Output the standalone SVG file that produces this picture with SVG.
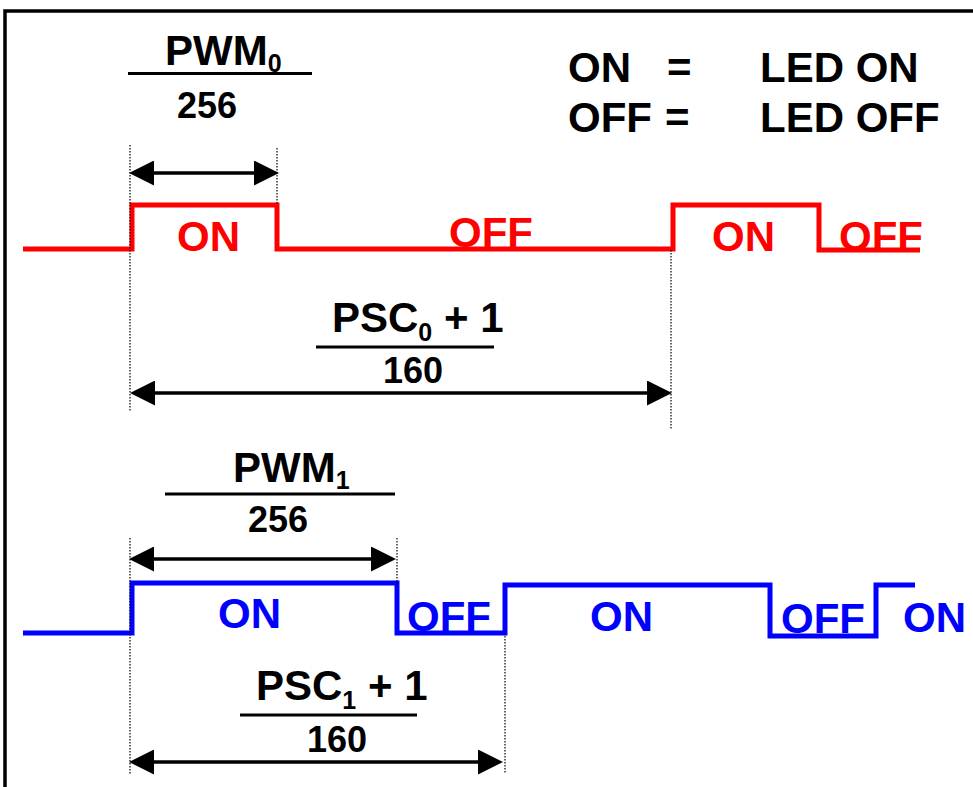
<svg xmlns="http://www.w3.org/2000/svg" width="973" height="787" viewBox="0 0 973 787">
<style>
text{font-family:"Liberation Sans",Arial,sans-serif;font-weight:bold}
.big{font-size:42px}
.num{font-size:36px}
.sub{font-size:25px}
.blk{fill:#000}
.red{fill:#FF0000}
.blu{fill:#0000FF}
.frac{stroke:#000;stroke-width:3}
.arr{stroke:#000;stroke-width:3.5;fill:none;marker-start:url(#ah);marker-end:url(#ah)}
.dot{stroke:#000;stroke-width:1.2;stroke-dasharray:1.5 1.5;fill:none}
.wave{fill:none;stroke-width:5;stroke-linejoin:miter}
</style>
<defs>
<marker id="ah" viewBox="0 0 25 25" refX="5" refY="12.5" markerWidth="25" markerHeight="25" markerUnits="userSpaceOnUse" orient="auto-start-reverse">
<path d="M0,0 L25,12.5 L0,25 z" fill="#000"/>
</marker>
</defs>
<rect x="0" y="0" width="973" height="787" fill="#fff"/>
<path d="M5,790 V11 H980" fill="none" stroke="#000" stroke-width="3.5"/>

<g id="legend">
<text class="big blk" x="568" y="82">ON</text>
<text class="big blk" x="667" y="82">=</text>
<text class="big blk" x="760" y="82">LED ON</text>
<text class="big blk" x="568" y="132">OFF</text>
<text class="big blk" x="665" y="132">=</text>
<text class="big blk" x="760" y="132">LED OFF</text>
</g>

<g id="pwm0-label">
<text class="big blk" x="165" y="65">PWM<tspan class="sub" dy="7">0</tspan></text>
<line class="frac" x1="128" y1="73.5" x2="312" y2="73.5"/>
<text class="num blk" x="177" y="118">256</text>
</g>

<g id="psc0-label">
<text class="big blk" x="332" y="332">PSC<tspan class="sub" dy="9">0</tspan><tspan dy="-9"> + 1</tspan></text>
<line class="frac" x1="316" y1="347" x2="494" y2="347"/>
<text class="num blk" x="383" y="383">160</text>
</g>

<g id="pwm1-label">
<text class="big blk" x="233" y="482">PWM<tspan class="sub" dy="7">1</tspan></text>
<line class="frac" x1="165" y1="494" x2="395" y2="494"/>
<text class="num blk" x="248" y="532">256</text>
</g>

<g id="psc1-label">
<text class="big blk" x="256" y="700">PSC<tspan class="sub" dy="9">1</tspan><tspan dy="-9"> + 1</tspan></text>
<line class="frac" x1="240" y1="715" x2="417" y2="715"/>
<text class="num blk" x="307" y="752">160</text>
</g>

<g id="red-wave">
<path class="wave" stroke="#FF0000" d="M23,249 H132 V205 H277 V249 H673 V205 H819 V250 H920"/>
<text class="big red" x="177" y="251">ON</text>
<text class="big red" x="449" y="247">OFF</text>
<text class="big red" x="712" y="251">ON</text>
<text class="big red" x="839" y="251">OFF</text>
</g>

<g id="blue-wave">
<path class="wave" stroke="#0000FF" d="M23,633 H132 V583 H397 V633 H505 V585 H770 V636 H876 V585 H915"/>
<text class="big blu" x="218" y="628">ON</text>
<text class="big blu" x="407" y="631">OFF</text>
<text class="big blu" x="590" y="631">ON</text>
<text class="big blu" x="781" y="633">OFF</text>
<text class="big blu" x="903" y="632">ON</text>
</g>

<g id="connectors">
<line class="dot" x1="130" y1="145" x2="130" y2="412"/>
<line class="dot" x1="277" y1="148" x2="277" y2="205"/>
<line class="dot" x1="671" y1="250" x2="671" y2="430"/>
<line class="dot" x1="130" y1="538" x2="130" y2="775"/>
<line class="dot" x1="397" y1="538" x2="397" y2="585"/>
<line class="dot" x1="505" y1="633" x2="505" y2="773"/>
<line class="arr" x1="149" y1="173" x2="259" y2="173"/>
<line class="arr" x1="150" y1="393" x2="652" y2="393"/>
<line class="arr" x1="149" y1="559" x2="376" y2="559"/>
<line class="arr" x1="149" y1="762" x2="483" y2="762"/>
</g>
</svg>
